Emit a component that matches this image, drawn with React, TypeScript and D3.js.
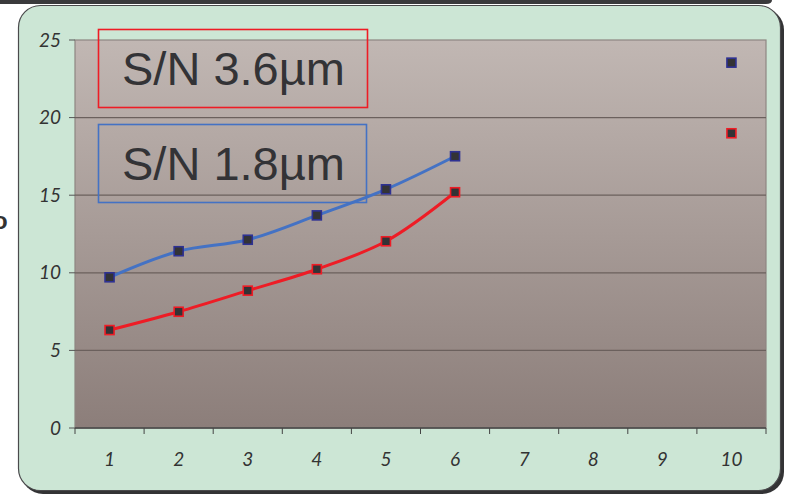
import React from "react";
import * as d3 from "d3";

const categories = ["1", "2", "3", "4", "5", "6", "7", "8", "9", "10"];
const yTicks = [0, 5, 10, 15, 20, 25];
const sn18Values: (number | null)[] = [9.71, 11.39, 12.13, 13.7, 15.38, 17.51, null, null, null, 23.54];
const sn36Values: (number | null)[] = [6.31, 7.49, 8.85, 10.23, 12.03, 15.19, null, null, null, 18.99];
const legendLabels = ["S/N 3.6µm", "S/N 1.8µm"];

const W = 789;
const H = 497;
const plot = { left: 75, top: 40, right: 766, bottom: 428 };

export default function App() {
  const x = d3.scaleBand<string>().domain(categories).range([plot.left, plot.right]).padding(0);
  const y = d3.scaleLinear().domain([0, 25]).range([plot.bottom, plot.top]);
  const cx = (c: string) => (x(c) as number) + x.bandwidth() / 2;

  const line = d3
    .line<[string, number | null]>()
    .defined((d) => d[1] !== null && d[0] !== "10")
    .x((d) => cx(d[0]))
    .y((d) => y(d[1] as number))
    .curve(d3.curveCatmullRom.alpha(0.5));

  const series = [
    { values: sn18Values, line: "#4472C4", mark: "#2E3192" },
    { values: sn36Values, line: "#EE1C25", mark: "#EE1C25" },
  ];

  const tickFont = "Lato, 'Open Sans', sans-serif";
  const ms = 9;

  return (
    <div style={{ position: "absolute", left: 0, top: 0 }}>
      <svg width={W} height={H} style={{ display: "block" }}>
        <defs>
          <linearGradient id="plotGrad" x1="0" y1="0" x2="0" y2="1">
            <stop offset="0" stopColor="#C1B7B3" />
            <stop offset="1" stopColor="#8C7E7A" />
          </linearGradient>
        </defs>
        <rect x={0} y={0} width={W} height={H} fill="#ffffff" />
        {/* top dark strip */}
        <path d="M0,0 H772 Q772,4 766,4 H0 Z" fill="#3A3A3C" />
        {/* cut-off title fragment */}
        <text x={-7} y={229} fontFamily="Liberation Sans, Arial, sans-serif" fontWeight="bold" fontSize={24} fill="#333">o</text>
        {/* card shadow + card */}
        <rect x={21} y={8} width={763} height={486} rx={22} fill="#333335" />
        <rect x={18.5} y={5.5} width={762} height={485} rx={22} fill="#CCE6D5" stroke="#4A4A4C" strokeWidth={1.2} />

        {/* plot background */}
        <rect x={plot.left} y={plot.top} width={plot.right - plot.left} height={plot.bottom - plot.top} fill="url(#plotGrad)" stroke="#8E8682" strokeWidth={1.2} />

        {/* gridlines */}
        {yTicks.filter((t) => t > 0 && t < 25).map((t) => (
          <line key={t} x1={plot.left} x2={plot.right} y1={y(t)} y2={y(t)} stroke="#6B605D" strokeWidth={1.3} />
        ))}

        {/* y axis ticks + labels */}
        {yTicks.map((t) => (
          <g key={t}>
            <line x1={plot.left - 6} x2={plot.left} y1={y(t)} y2={y(t)} stroke="#555" strokeWidth={1} />
            <text x={61} y={y(t) + 6.5} textAnchor="end" fontFamily={tickFont} fontStyle="italic" fontSize={19} fill="#333">{t}</text>
          </g>
        ))}

        {/* x axis */}
        <line x1={plot.left} x2={plot.right} y1={plot.bottom} y2={plot.bottom} stroke="#444" strokeWidth={1.3} />
        {categories.map((c) => (
          <line key={"t" + c} x1={(x(c) as number)} x2={(x(c) as number)} y1={plot.bottom} y2={plot.bottom + 6} stroke="#444" strokeWidth={1} />
        ))}
        <line x1={plot.right} x2={plot.right} y1={plot.bottom} y2={plot.bottom + 6} stroke="#444" strokeWidth={1} />
        {categories.map((c) => (
          <text key={"l" + c} x={cx(c)} y={466} textAnchor="middle" fontFamily={tickFont} fontStyle="italic" fontSize={19} fill="#333">{c}</text>
        ))}

        {/* series */}
        {series.map((s, si) => {
          const pts = categories.map((c, i) => [c, s.values[i]] as [string, number | null]);
          return (
            <g key={si}>
              <path d={line(pts) || ""} fill="none" stroke={s.line} strokeWidth={3} />
              {pts.filter((p) => p[1] !== null).map((p) => (
                <rect key={p[0]} x={cx(p[0]) - ms / 2} y={y(p[1] as number) - ms / 2} width={ms} height={ms} fill="#333336" stroke={s.mark} strokeWidth={1.6} />
              ))}
            </g>
          );
        })}

        {/* legend boxes */}
        <rect x={98.5} y={29.5} width={269} height={78} fill="none" stroke="#EE1C25" strokeWidth={1.6} />
        <text x={233.5} y={85} textAnchor="middle" fontFamily="Liberation Sans, Arial, sans-serif" fontSize={47} fill="#333336">{legendLabels[0]}</text>
        <rect x={98.5} y={124.5} width={268} height={78} fill="none" stroke="#4472C4" strokeWidth={1.6} />
        <text x={233.5} y={180} textAnchor="middle" fontFamily="Liberation Sans, Arial, sans-serif" fontSize={47} fill="#333336">{legendLabels[1]}</text>
      </svg>
    </div>
  );
}
